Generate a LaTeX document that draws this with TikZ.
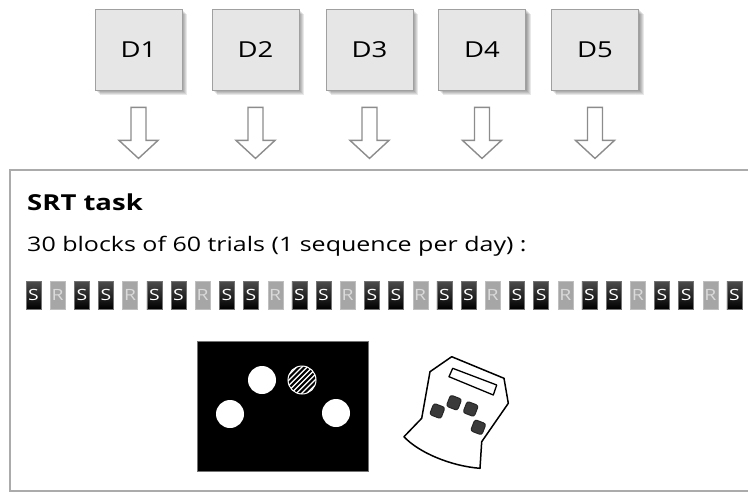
\documentclass[tikz,border=0pt]{standalone}
\usepackage{fontspec}
\setmainfont{Open Sans}
\newfontfamily\wide{Open Sans}[FakeStretch=1.25]
\usetikzlibrary{calc}
\pgfdeclarelayer{bg}
\pgfsetlayers{bg,main}

\definecolor{boxfill}{HTML}{E6E6E6}
\definecolor{boxline}{HTML}{A0A0A0}
\definecolor{frameline}{HTML}{ABABAB}
\definecolor{arrowline}{HTML}{8C8C8C}
\definecolor{rfill}{HTML}{A6A6A6}
\definecolor{rtext}{HTML}{DADADA}
\definecolor{keyfill}{HTML}{3A3A3A}

\tikzset{
  daybox/.style={draw=boxline, line width=0.8, fill=boxfill, minimum width=87,
    minimum height=81, inner sep=0, font=\wide\fontsize{22}{26}\selectfont},
  hollow/.style={draw=arrowline, line width=1.4, fill=white, line join=miter},
  taskframe/.style={draw=frameline, line width=2, minimum width=750,
    minimum height=321, inner sep=0},
  blockbase/.style={minimum width=15, minimum height=28, inner sep=0,
    font=\wide\fontsize{15.5}{17}\selectfont},
  sblock/.style={blockbase, top color=black!70, bottom color=black,
    draw=black!55, line width=0.4, text=white},
  rblock/.style={blockbase, fill=rfill, draw=black!25, line width=0.4, text=rtext},
  screen/.style={fill=black, draw=black!55, line width=0.6, minimum width=171,
    minimum height=130, inner sep=0},
  target/.style={circle, fill=white, minimum size=28, inner sep=0},
  keypad/.style={draw=black, line width=1.5, fill=white, line join=round},
  key/.style={fill=keyfill, draw=black!85, line width=1, rounded corners=2.5,
    minimum size=12, inner sep=0, rotate=-21}
}

\begin{document}
\begin{tikzpicture}[x=1pt, y=-1pt]
\useasboundingbox (0,0) rectangle (748,493);

% day boxes
\foreach \i/\x in {1/138.5, 2/255.5, 3/369.5, 4/482, 5/595}
  \node[daybox] (d\i) at (\x,49.5) {D\i};

% soft shadows behind the day boxes
\begin{pgfonlayer}{bg}
  \foreach \i in {1,...,5}
    \foreach \s in {1,...,5}
      \fill[black, opacity=0.09] ($(d\i.north west)+(\s,\s)$) rectangle ($(d\i.south east)+(\s,\s)$);
\end{pgfonlayer}

% task frame
\node[taskframe] (task) at (385,330.5) {};

% hollow arrows from each day into the task
\foreach \i in {1,...,5}
  \draw[hollow] ($(d\i.south)+(-7.5,17)$) -- ($(d\i.south)+(-7.5,50)$)
    -- ($(d\i.south)+(-19.5,50)$) -- ($(d\i.south)+(0,68)$)
    -- ($(d\i.south)+(19.5,50)$) -- ($(d\i.south)+(7.5,50)$)
    -- ($(d\i.south)+(7.5,17)$) -- cycle;

% headings
\node[anchor=base west, inner sep=0, font=\wide\bfseries\fontsize{22}{26}\selectfont]
  (title) at (27,210) {SRT task};
\node[anchor=base west, inner sep=0, font=\wide\fontsize{20}{24}\selectfont]
  (blocks) at (27,251) {30 blocks of 60 trials (1 sequence per day) :};

% block sequence: R on every third block starting with the second
\foreach \i in {0,...,29} {
  \pgfmathtruncatemacro\m{mod(\i,3)}
  \ifnum\m=1
    \node[rblock] (b\i) at ({33.5+24.17*\i},295) {R};
  \else
    \node[sblock] (b\i) at ({33.5+24.17*\i},295) {S};
  \fi
}

% stimulus screen
\node[screen] (screen) at (282.5,406) {};
\node[target] (t1) at (230,414) {};
\node[target] (t2) at (262,380) {};
\node[target, draw=white, line width=1,
  path picture={
    \foreach \k in {-5,...,5}
      \draw[black, line width=2.1]
        ($(path picture bounding box.center)+(\k*5.2-20,20)$) -- ++(40,-40);
  }] (t3) at (302,380) {};
\node[target] (t4) at (336,413) {};

% response keypad
\draw[keypad] (451.7,356.7) -- (430,371.7) -- (421.7,418.3) -- (404,436.7)
  .. controls (418,452) and (450,466) .. (480,468.3)
  -- (481.7,441.7) -- (508.3,403.3) -- (504,378.3) -- cycle;
\draw[black, line width=1.3, line join=round]
  (452.7,368.3) -- (496.7,385) -- (493.3,395) -- (449,376.7) -- cycle;
\node[key] (k1) at (437.3,411) {};
\node[key] (k2) at (454,402.7) {};
\node[key] (k3) at (470.7,409) {};
\node[key] (k4) at (478.3,427.3) {};
\end{tikzpicture}
\end{document}
